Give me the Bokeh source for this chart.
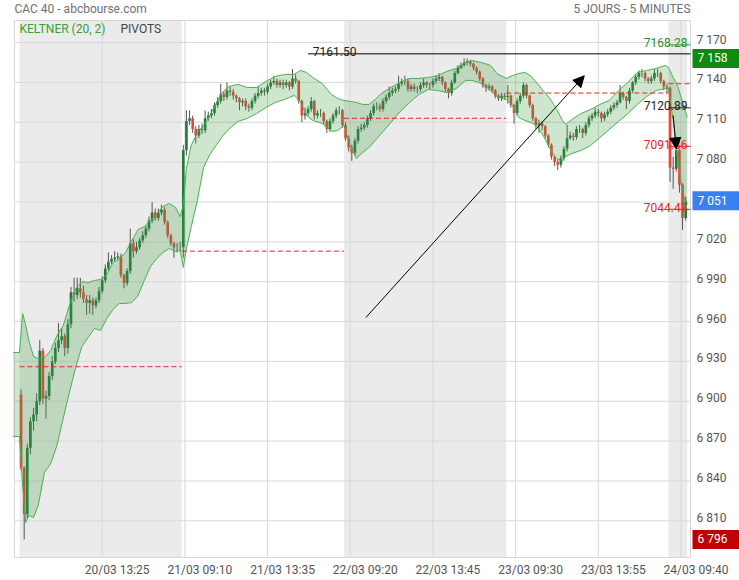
from bokeh.plotting import figure
from bokeh.models import ColumnDataSource, Range1d, Arrow, NormalHead
from bokeh.core.properties import value
from bokeh.embed import file_html
from bokeh.resources import INLINE

# ---------------- data ----------------
# 10-minute candles; time axis counted in 5-minute slots (104 slots per session)
first_open = 6905
closes = [
    6850, 6815, 6865, 6885, 6890, 6900, 6938, 6902, 6904, 6919,
    6930, 6940, 6946, 6949, 6940, 6958, 6982, 6980, 6985, 6982,
    6977, 6974, 6976, 6972, 6976, 6983, 6991, 7000, 7005, 7007,
    7008, 7009, 6995, 6989, 6998, 7019, 7013, 7016, 7021, 7025,
    7030, 7036, 7042, 7038, 7042, 7044, 7035, 7025, 7019, 7016,
    7016, 7016,
    7089, 7111, 7113, 7105, 7100, 7105, 7104, 7113, 7115, 7117,
    7123, 7126, 7131, 7129, 7134, 7133, 7130, 7128, 7125, 7126,
    7122, 7121, 7126, 7130, 7132, 7134, 7133, 7137, 7140, 7141,
    7138, 7140, 7138, 7140, 7137, 7143, 7141, 7126, 7115, 7117,
    7120, 7126, 7115, 7117, 7117, 7111, 7105, 7111, 7115, 7119,
    7119, 7108,
    7098, 7091, 7087, 7096, 7105, 7106, 7108, 7113, 7117, 7122,
    7122, 7120, 7126, 7129, 7132, 7134, 7135, 7139, 7141, 7141,
    7135, 7137, 7135, 7135, 7138, 7140, 7138, 7138, 7141, 7143,
    7144, 7140, 7135, 7132, 7140, 7147, 7151, 7153, 7155, 7156,
    7154, 7151, 7148, 7143, 7138, 7136, 7137, 7134, 7130, 7128,
    7130, 7129,
    7130, 7123, 7117, 7126, 7130, 7138, 7130, 7123, 7113, 7108,
    7109, 7107, 7100, 7093, 7084, 7080, 7078, 7083, 7090, 7098,
    7100, 7099, 7105, 7105, 7102, 7108, 7113, 7115, 7118, 7117,
    7113, 7116, 7118, 7121, 7123, 7125, 7132, 7129, 7126, 7134,
    7140, 7144, 7147, 7147, 7143, 7141, 7143, 7147, 7147, 7141,
    7137, 7136,
    7076, 7075, 7089, 7063, 7038, 7051,
]
highs = [
    6909, 6851, 6868, 6888, 6895, 6906, 6946, 6940, 6908, 6922,
    6934, 6944, 6959, 6955, 6951, 6962, 6986, 6993, 6993, 6993,
    6987, 6980, 6980, 6978, 6978, 6986, 6994, 7003, 7012, 7010,
    7013, 7012, 7011, 6996, 7000, 7030, 7022, 7020, 7023, 7028,
    7032, 7039, 7050, 7045, 7045, 7048, 7046, 7036, 7026, 7020,
    7019, 7020,
    7093, 7119, 7119, 7115, 7107, 7108, 7109, 7119, 7118, 7120,
    7125, 7129, 7139, 7133, 7140, 7137, 7135, 7131, 7129, 7128,
    7128, 7124, 7128, 7132, 7137, 7136, 7136, 7139, 7142, 7145,
    7143, 7142, 7142, 7142, 7141, 7150, 7146, 7142, 7127, 7121,
    7122, 7129, 7127, 7119, 7120, 7118, 7112, 7113, 7117, 7121,
    7122, 7120,
    7110, 7100, 7093, 7098, 7107, 7109, 7110, 7115, 7119, 7124,
    7125, 7124, 7128, 7131, 7137, 7136, 7137, 7145, 7143, 7145,
    7143, 7139, 7139, 7137, 7140, 7143, 7141, 7140, 7143, 7145,
    7147, 7145, 7141, 7136, 7142, 7149, 7153, 7155, 7158, 7158,
    7157, 7155, 7152, 7149, 7144, 7139, 7139, 7138, 7135, 7131,
    7132, 7132,
    7138, 7131, 7124, 7128, 7132, 7140, 7139, 7131, 7124, 7114,
    7112, 7111, 7108, 7101, 7094, 7085, 7082, 7085, 7092, 7108,
    7103, 7102, 7107, 7108, 7106, 7110, 7115, 7117, 7121, 7120,
    7118, 7118, 7120, 7123, 7125, 7127, 7138, 7133, 7130, 7136,
    7141, 7146, 7149, 7150, 7148, 7144, 7145, 7150, 7150, 7148,
    7142, 7139,
    7137, 7084, 7093, 7090, 7064, 7054,
]
lows = [
    6848, 6796, 6812, 6860, 6878, 6885, 6897, 6898, 6887, 6901,
    6916, 6928, 6937, 6943, 6934, 6936, 6955, 6975, 6977, 6978,
    6974, 6965, 6966, 6965, 6970, 6974, 6981, 6989, 6998, 7003,
    7005, 7006, 6993, 6985, 6987, 6996, 7008, 7011, 7014, 7019,
    7023, 7028, 7034, 7036, 7036, 7040, 7033, 7023, 7017, 7008,
    7012, 7013,
    7008, 7085, 7108, 7102, 7094, 7098, 7101, 7102, 7111, 7113,
    7115, 7121, 7124, 7126, 7127, 7130, 7127, 7125, 7119, 7122,
    7119, 7118, 7119, 7124, 7128, 7130, 7130, 7131, 7135, 7138,
    7136, 7136, 7135, 7136, 7134, 7135, 7139, 7124, 7110, 7112,
    7115, 7118, 7112, 7113, 7114, 7108, 7102, 7103, 7109, 7113,
    7116, 7106,
    7096, 7088, 7081, 7085, 7094, 7103, 7104, 7106, 7111, 7115,
    7119, 7118, 7118, 7124, 7127, 7130, 7132, 7133, 7137, 7138,
    7133, 7133, 7133, 7132, 7133, 7136, 7136, 7135, 7136, 7139,
    7141, 7138, 7133, 7128, 7130, 7139, 7146, 7150, 7152, 7153,
    7152, 7149, 7146, 7141, 7136, 7133, 7134, 7132, 7128, 7126,
    7126, 7127,
    7124, 7121, 7109, 7115, 7124, 7128, 7128, 7121, 7111, 7105,
    7102, 7104, 7098, 7091, 7082, 7077, 7074, 7076, 7081, 7088,
    7097, 7096, 7097, 7102, 7098, 7100, 7106, 7111, 7113, 7114,
    7110, 7111, 7114, 7116, 7119, 7121, 7124, 7127, 7120, 7124,
    7132, 7138, 7142, 7144, 7141, 7139, 7139, 7141, 7144, 7139,
    7134, 7132,
    7065, 7060, 7073, 7057, 7029, 7036,
]

# Keltner (20, 2) channel, sampled along the time axis (5-minute slots)
band_slot = [-4, 0, 2, 4, 6, 9, 12, 16, 20, 24, 28, 32, 36, 40, 44, 48, 52, 56, 60, 64,
             68, 72, 76, 80, 84, 88, 92, 96, 100, 103, 105, 107, 110, 114, 118, 122, 126, 130, 134, 140,
             146, 152, 158, 164, 170, 176, 180, 184, 188, 194, 200, 204, 208, 212, 216, 220, 224, 228, 232, 238,
             244, 250, 256, 262, 268, 274, 280, 286, 290, 296, 302, 306, 312, 316, 320, 324, 328, 332, 336, 340,
             344, 348, 350, 354, 360, 366, 372, 378, 384, 390, 396, 402, 408, 414, 416, 419, 422, 425, 428]
band_upper = [6936.7, 6936.7, 6966.1, 6957.0, 6945.7, 6933.7, 6932.2, 6932.9, 6938.2, 6949.5,
              6957.0, 6972.1, 6984.9, 6990.1, 6989.4, 6990.9, 6991.7, 6995.4, 7004.5, 7007.5,
              7012.0, 7021.0, 7029.3, 7031.5, 7036.1, 7041.3, 7046.6, 7048.9, 7045.9, 7039.1,
              7047.4, 7075.2, 7092.5, 7102.3, 7107.6, 7115.1, 7124.1, 7132.4, 7136.9, 7138.5,
              7136.2, 7136.2, 7140.7, 7144.5, 7146.0, 7146.0, 7149.0, 7147.5, 7143.7, 7139.2,
              7130.9, 7127.9, 7126.4, 7125.7, 7124.9, 7123.4, 7123.4, 7127.2, 7131.7, 7136.2,
              7140.0, 7143.0, 7143.0, 7143.7, 7145.2, 7148.3, 7150.5, 7155.0, 7156.5, 7155.0,
              7152.8, 7146.7, 7143.0, 7145.2, 7146.7, 7147.5, 7144.5, 7139.2, 7133.2, 7127.9,
              7120.4, 7111.4, 7108.3, 7112.1, 7116.6, 7119.6, 7123.4, 7126.4, 7133.9, 7140.0,
              7147.5, 7149.0, 7150.5, 7152.8, 7151.3, 7143.7, 7137.0, 7124.9, 7113.6]
band_lower = [6873.5, 6873.5, 6836.6, 6808.7, 6814.0, 6812.5, 6821.5, 6846.4, 6853.1, 6866.7,
              6887.0, 6906.6, 6925.4, 6941.2, 6948.0, 6954.8, 6953.3, 6962.3, 6969.1, 6973.6,
              6973.6, 6974.3, 6979.6, 6990.9, 7001.4, 7007.5, 7012.0, 7015.0, 7012.7, 7013.5,
              7000.7, 7015.0, 7030.8, 7051.1, 7076.0, 7085.7, 7092.5, 7099.3, 7104.6, 7110.6,
              7112.9, 7116.6, 7121.1, 7124.9, 7127.2, 7130.2, 7125.7, 7115.1, 7111.4, 7109.1,
              7103.1, 7103.8, 7107.6, 7092.5, 7082.7, 7087.3, 7091.0, 7096.3, 7101.6, 7109.8,
              7118.1, 7124.9, 7130.9, 7134.7, 7133.9, 7132.4, 7135.4, 7141.5, 7141.5, 7139.2,
              7133.9, 7129.4, 7127.2, 7122.6, 7113.6, 7111.4, 7109.8, 7106.8, 7099.3, 7090.3,
              7082.7, 7081.2, 7084.2, 7086.5, 7088.8, 7092.5, 7098.5, 7104.6, 7110.6, 7116.6,
              7123.4, 7129.4, 7133.9, 7135.4, 7135.4, 7111.4, 7081.2, 7058.7, 7043.6]

slots_per_candle = 2
day_start_slots = [0, 104, 208, 312, 416]
last_slot = 428
tick_slots = [53, 106, 159, 212, 265, 318, 371, 424]
tick_labels = ["20/03 13:25", "21/03 09:10", "21/03 13:35", "22/03 09:20",
               "22/03 13:45", "23/03 09:30", "23/03 13:55", "24/03 09:40"]
pivots = [6926, 7013, 7113, 7132, 7139]
y_ticks = [6810, 6840, 6870, 6900, 6930, 6960, 6990, 7020, 7050, 7080, 7110, 7140, 7170]

long_level = 7161.50
long_level_from_slot = 185
day5_levels = [7168.28, 7120.89, 7091.86, 7044.47]
day5_level_colors = ["#2a8f2a", "#222222", "#ee2222", "#ee2222"]
arrow_up = (222, 6963, 362, 7145)
arrow_down = (419, 7115, 421, 7090)
period_high = 7158
period_low = 6796
last_price = 7051

title_left = "CAC 40 - abcbourse.com"
title_right = "5 JOURS - 5 MINUTES"

# ---------------- geometry of the page ----------------
W, H = 739, 580
FL, FR, FT, FB = 14, 690, 20, 557          # plot area in page pixels
X_START, X_END = -3.2, 430.1
Y_START, Y_END = 6782.4, 7186.6
ux = (X_END - X_START) / (FR - FL)
uy = (Y_END - Y_START) / (FB - FT)


def px(xp):
    return X_START + (xp - FL) * ux


def py(yp):
    return Y_END - (yp - FT) * uy


FONT = "Roboto"
p = figure(width=W, height=H, x_range=Range1d(px(0), px(W)), y_range=Range1d(py(H), py(0)),
           x_axis_type=None, y_axis_type=None, min_border=0, outline_line_color=None,
           output_backend="svg", toolbar_location=None)
p.background_fill_color = "white"
p.border_fill_color = "white"

# day shading
day_end_slots = day_start_slots[1:] + [last_slot]
shade = [0, 2, 4]
p.quad(left=[day_start_slots[i] for i in shade], right=[day_end_slots[i] for i in shade],
       bottom=Y_START, top=Y_END, fill_color="#ebebeb", line_color=None)

# grid lines and frame
p.segment(x0=tick_slots, y0=[Y_START] * len(tick_slots), x1=tick_slots, y1=[Y_END] * len(tick_slots),
          line_color="#d9d9d9", line_width=1)
p.segment(x0=[X_START] * len(y_ticks), y0=y_ticks, x1=[X_END] * len(y_ticks), y1=y_ticks,
          line_color="#d9d9d9", line_width=1)
p.quad(left=[X_START], right=[X_END], bottom=[Y_START], top=[Y_END],
       fill_color=None, line_color="#d6d6d6", line_width=1)

# candles
opens = [first_open] + closes[:-1]
xs = [slots_per_candle * i + 1 for i in range(len(closes))]
colors = ["#1f7a3f" if c >= o else "#e8443a" for o, c in zip(opens, closes)]
src = ColumnDataSource(dict(x=xs, open=opens, close=closes, high=highs, low=lows,
                            top=[max(o, c) for o, c in zip(opens, closes)],
                            bottom=[min(o, c) for o, c in zip(opens, closes)],
                            color=colors))
p.segment(x0="x", y0="high", x1="x", y1="low", source=src, line_color="#555555", line_width=1)
p.vbar(x="x", width=1.7, top="top", bottom="bottom", source=src, fill_color="color", line_color=None)

# Keltner channel (drawn over the candles)
p.varea(x=band_slot, y1=band_lower, y2=band_upper, fill_color="#3ca03c", fill_alpha=0.26)
p.line(band_slot, band_upper, line_color="#4caf50", line_width=1)
p.line(band_slot, band_lower, line_color="#4caf50", line_width=1)

# pivots
piv_end = day_start_slots[1:] + [X_END]
p.segment(x0=day_start_slots, y0=pivots, x1=piv_end, y1=pivots,
          line_color="#e8231e", line_width=1, line_dash="5 3")

# levels
p.segment(x0=[long_level_from_slot], y0=[long_level], x1=[X_END], y1=[long_level],
          line_color="black", line_width=1)
p.text(x=[long_level_from_slot + 3], y=[long_level], text=[f"{long_level:.2f}"],
       text_font=value(FONT), text_font_size="12px", text_color="#222222",
       text_baseline="alphabetic", text_align="left", y_offset=-2)
p.segment(x0=[day_start_slots[4]] * 4, y0=day5_levels, x1=[X_END] * 4, y1=day5_levels,
          line_color=day5_level_colors, line_width=1)
p.text(x=[px(FR - 3)] * 4, y=day5_levels, text=[f"{v:.2f}" for v in day5_levels],
       text_color=day5_level_colors, text_font=value(FONT), text_font_size="12px",
       text_baseline="alphabetic", text_align="right", y_offset=-2)

# arrows
for a in (arrow_up, arrow_down):
    p.add_layout(Arrow(end=NormalHead(size=11, fill_color="black", line_color="black"),
                       x_start=a[0], y_start=a[1], x_end=a[2], y_end=a[3],
                       line_color="black", line_width=1))

# axis tick labels
p.text(x=[px(FR + 6)] * len(y_ticks), y=y_ticks, text=[f"{v:,}".replace(",", " ") for v in y_ticks],
       text_font=value(FONT), text_font_size="12px", text_color="#555555",
       text_baseline="middle", text_align="left", y_offset=-3)
label_shift = 15 * ux
p.text(x=[t + label_shift for t in tick_slots], y=[py(569)] * len(tick_slots), text=tick_labels,
       text_font=value(FONT), text_font_size="12px", text_color="#555555",
       text_baseline="middle", text_align="center")

# price boxes on the right axis
box_vals = [period_high, last_price, period_low]
box_cols = ["#108a10", "#3b7ff5", "#c00000"]
p.quad(left=[px(692)] * 3, right=[px(W)] * 3,
       bottom=[v - 9.5 * uy for v in box_vals], top=[v + 9.5 * uy for v in box_vals],
       fill_color=box_cols, line_color=None)
p.text(x=[px(697)] * 3, y=box_vals, text=[f"{v:,}".replace(",", " ") for v in box_vals],
       text_font=value(FONT), text_font_size="12px", text_color="white",
       text_baseline="middle", text_align="left")

# titles and legend
p.text(x=[px(FL)], y=[py(8.5)], text=[title_left], text_font=value(FONT), text_font_size="12px",
       text_color="#707070", text_baseline="middle", text_align="left")
p.text(x=[px(FR)], y=[py(8.5)], text=[title_right], text_font=value(FONT), text_font_size="12px",
       text_color="#707070", text_baseline="middle", text_align="right")
p.text(x=[px(19), px(120)], y=[py(28)] * 2, text=["KELTNER (20, 2)", "PIVOTS"],
       text_font=value(FONT), text_font_size="12px", text_color=["#35a035", "#444444"],
       text_baseline="middle", text_align="left")

open("out.html", "w").write(file_html(p, INLINE))
